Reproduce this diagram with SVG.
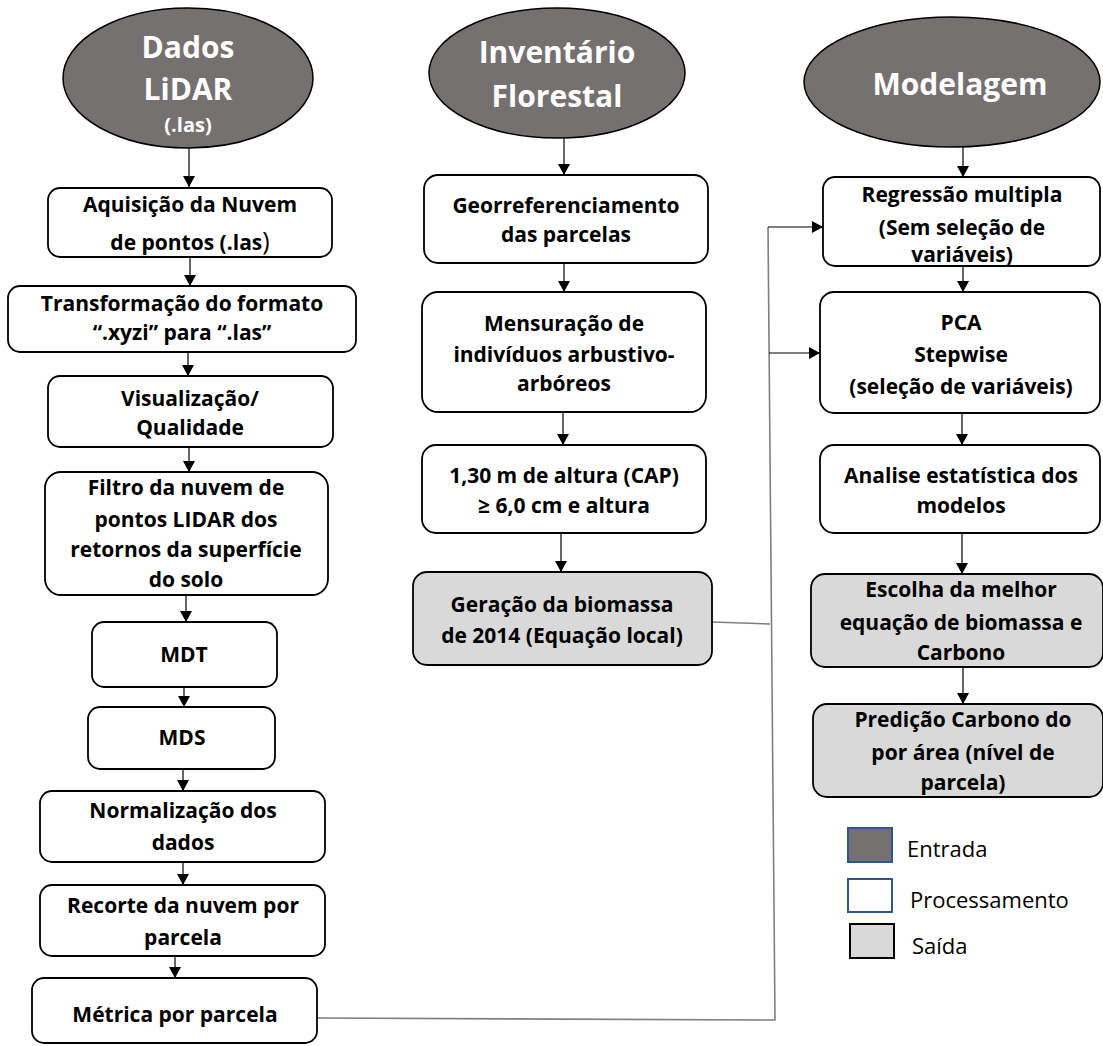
<svg xmlns="http://www.w3.org/2000/svg" width="1103" height="1046" viewBox="0 0 1103 1046">
<defs>
<marker id="ah" markerUnits="userSpaceOnUse" markerWidth="12" markerHeight="12" refX="11" refY="6" orient="auto">
<path d="M0,0 L11,6 L0,12 z" fill="#000"/>
</marker>
<style>
.box{fill:#fff;stroke:#000;stroke-width:1.8}
.out{fill:#d9d9d9;stroke:#000;stroke-width:1.8}
.ell{fill:#767171;stroke:#000;stroke-width:1.5}
.t{font-family:"Open Sans","DejaVu Sans",sans-serif;font-weight:bold;font-size:21px;fill:#000;text-anchor:middle}
.et{font-family:"Open Sans","DejaVu Sans",sans-serif;font-weight:bold;font-size:30px;fill:#fff;text-anchor:middle}
.lt{font-family:"Open Sans","DejaVu Sans",sans-serif;font-size:22px;fill:#000}
.a{stroke:#000;stroke-width:1.2;fill:none;marker-end:url(#ah)}
.g{stroke:#7f7f7f;stroke-width:1.6;fill:none}
</style>
</defs>
<rect width="1103" height="1046" fill="#fff"/>

<g id="connectors">
<line class="a" x1="189" y1="148" x2="189" y2="187"/>
<line class="a" x1="190" y1="257" x2="190" y2="286"/>
<line class="a" x1="188" y1="352" x2="188" y2="376"/>
<line class="a" x1="189" y1="447" x2="189" y2="472"/>
<line class="a" x1="186" y1="595" x2="186" y2="622"/>
<line class="a" x1="184" y1="687" x2="184" y2="707"/>
<line class="a" x1="183" y1="769" x2="183" y2="791"/>
<line class="a" x1="183" y1="862" x2="183" y2="885"/>
<line class="a" x1="175" y1="956" x2="175" y2="978"/>
<line class="a" x1="564" y1="138" x2="564" y2="175"/>
<line class="a" x1="564" y1="263" x2="564" y2="292"/>
<line class="a" x1="563" y1="412" x2="563" y2="445"/>
<line class="a" x1="561" y1="533" x2="561" y2="572"/>
<line class="a" x1="963" y1="147" x2="963" y2="177"/>
<line class="a" x1="963" y1="266" x2="963" y2="292"/>
<line class="a" x1="962" y1="413" x2="962" y2="445"/>
<line class="a" x1="962" y1="533" x2="962" y2="574"/>
<line class="a" x1="963" y1="667" x2="963" y2="704"/>
<path class="g" d="M317,1018 L775,1020 L768,227"/>
<path class="g" d="M712,622 L770,624"/>
<line class="a" x1="768" y1="227" x2="823" y2="227"/>
<line class="a" x1="769" y1="353" x2="820" y2="353"/>
</g>

<g id="n-dados">
<ellipse class="ell" cx="188" cy="78" rx="125" ry="70"/>
<text class="et" x="188" y="58">Dados</text>
<text class="et" x="188" y="100">LiDAR</text>
<text class="et" x="188" y="132" style="font-size:20px">(.las)</text>
</g>
<g id="n-inventario">
<ellipse class="ell" cx="557" cy="73" rx="128" ry="65"/>
<text class="et" x="557" y="63">Inventário</text>
<text class="et" x="557" y="107">Florestal</text>
</g>
<g id="n-modelagem">
<ellipse class="ell" cx="952" cy="82" rx="148" ry="65"/>
<text class="et" x="960" y="95">Modelagem</text>
</g>

<g id="n-aquisicao">
<rect class="box" x="48" y="188" width="284" height="69" rx="12"/>
<text class="t" x="190" y="212">Aquisição da Nuvem</text>
<text class="t" x="190" y="250">de pontos (.las<tspan style="font-weight:normal;font-size:25px">)</tspan></text>
</g>
<g id="n-transformacao">
<rect class="box" x="8" y="286" width="348" height="66" rx="12"/>
<text class="t" x="182" y="311">Transformação do formato</text>
<text class="t" x="182" y="340">“.xyzi” para “.las”</text>
</g>
<g id="n-visualizacao">
<rect class="box" x="48" y="376" width="285" height="71" rx="12"/>
<text class="t" x="190" y="406">Visualização/</text>
<text class="t" x="190" y="435">Qualidade</text>
</g>
<g id="n-filtro">
<rect class="box" x="45" y="472" width="283" height="123" rx="16"/>
<text class="t" x="186" y="495">Filtro da nuvem de</text>
<text class="t" x="186" y="527">pontos LIDAR dos</text>
<text class="t" x="186" y="557">retornos da superfície</text>
<text class="t" x="186" y="587">do solo</text>
</g>
<g id="n-mdt">
<rect class="box" x="92" y="622" width="185" height="65" rx="12"/>
<text class="t" x="184" y="662">MDT</text>
</g>
<g id="n-mds">
<rect class="box" x="88" y="707" width="187" height="62" rx="12"/>
<text class="t" x="182" y="745">MDS</text>
</g>
<g id="n-normalizacao">
<rect class="box" x="40" y="791" width="285" height="71" rx="12"/>
<text class="t" x="183" y="818">Normalização dos</text>
<text class="t" x="183" y="850">dados</text>
</g>
<g id="n-recorte">
<rect class="box" x="40" y="885" width="285" height="71" rx="12"/>
<text class="t" x="183" y="913">Recorte da nuvem por</text>
<text class="t" x="183" y="945">parcela</text>
</g>
<g id="n-metrica">
<rect class="box" x="32" y="978" width="285" height="65" rx="12"/>
<text class="t" x="175" y="1022">Métrica por parcela</text>
</g>

<g id="n-georref">
<rect class="box" x="424" y="175" width="284" height="88" rx="14"/>
<text class="t" x="566" y="213">Georreferenciamento</text>
<text class="t" x="566" y="242">das parcelas</text>
</g>
<g id="n-mensuracao">
<rect class="box" x="422" y="292" width="284" height="120" rx="16"/>
<text class="t" x="564" y="331">Mensuração de</text>
<text class="t" x="564" y="362">indivíduos arbustivo-</text>
<text class="t" x="564" y="391">arbóreos</text>
</g>
<g id="n-cap">
<rect class="box" x="422" y="445" width="284" height="88" rx="14"/>
<text class="t" x="564" y="483">1,30 m de altura (CAP)</text>
<text class="t" x="564" y="513">≥ 6,0 cm e altura</text>
</g>
<g id="n-geracao">
<rect class="out" x="413" y="572" width="299" height="93" rx="14"/>
<text class="t" x="562" y="612">Geração da biomassa</text>
<text class="t" x="562" y="643">de 2014 (Equação local)</text>
</g>

<g id="n-regressao">
<rect class="box" x="823" y="177" width="277" height="89" rx="12"/>
<text class="t" x="962" y="202">Regressão multipla</text>
<text class="t" x="962" y="235">(Sem seleção de</text>
<text class="t" x="962" y="262">variáveis)</text>
</g>
<g id="n-pca">
<rect class="box" x="820" y="292" width="280" height="121" rx="14"/>
<text class="t" x="961" y="330">PCA</text>
<text class="t" x="961" y="362">Stepwise</text>
<text class="t" x="961" y="394">(seleção de variáveis)</text>
</g>
<g id="n-analise">
<rect class="box" x="820" y="445" width="280" height="88" rx="14"/>
<text class="t" x="961" y="483">Analise estatística dos</text>
<text class="t" x="961" y="513">modelos</text>
</g>
<g id="n-escolha">
<rect class="out" x="811" y="574" width="292" height="93" rx="14"/>
<text class="t" x="961" y="597">Escolha da melhor</text>
<text class="t" x="961" y="630">equação de biomassa e</text>
<text class="t" x="961" y="660">Carbono</text>
</g>
<g id="n-predicao">
<rect class="out" x="813" y="704" width="290" height="93" rx="14"/>
<text class="t" x="963" y="727">Predição Carbono do</text>
<text class="t" x="963" y="760">por área (nível de</text>
<text class="t" x="963" y="790">parcela)</text>
</g>

<g id="legend">
<rect x="848" y="828" width="44" height="34" fill="#767171" stroke="#2f5597" stroke-width="2"/>
<text class="lt" x="907" y="857">Entrada</text>
<rect x="848" y="879" width="44" height="33" fill="#fff" stroke="#2f5597" stroke-width="2"/>
<text class="lt" x="910" y="908">Processamento</text>
<rect x="850" y="924" width="44" height="34" fill="#d9d9d9" stroke="#000" stroke-width="2"/>
<text class="lt" x="912" y="954">Saída</text>
</g>
</svg>
